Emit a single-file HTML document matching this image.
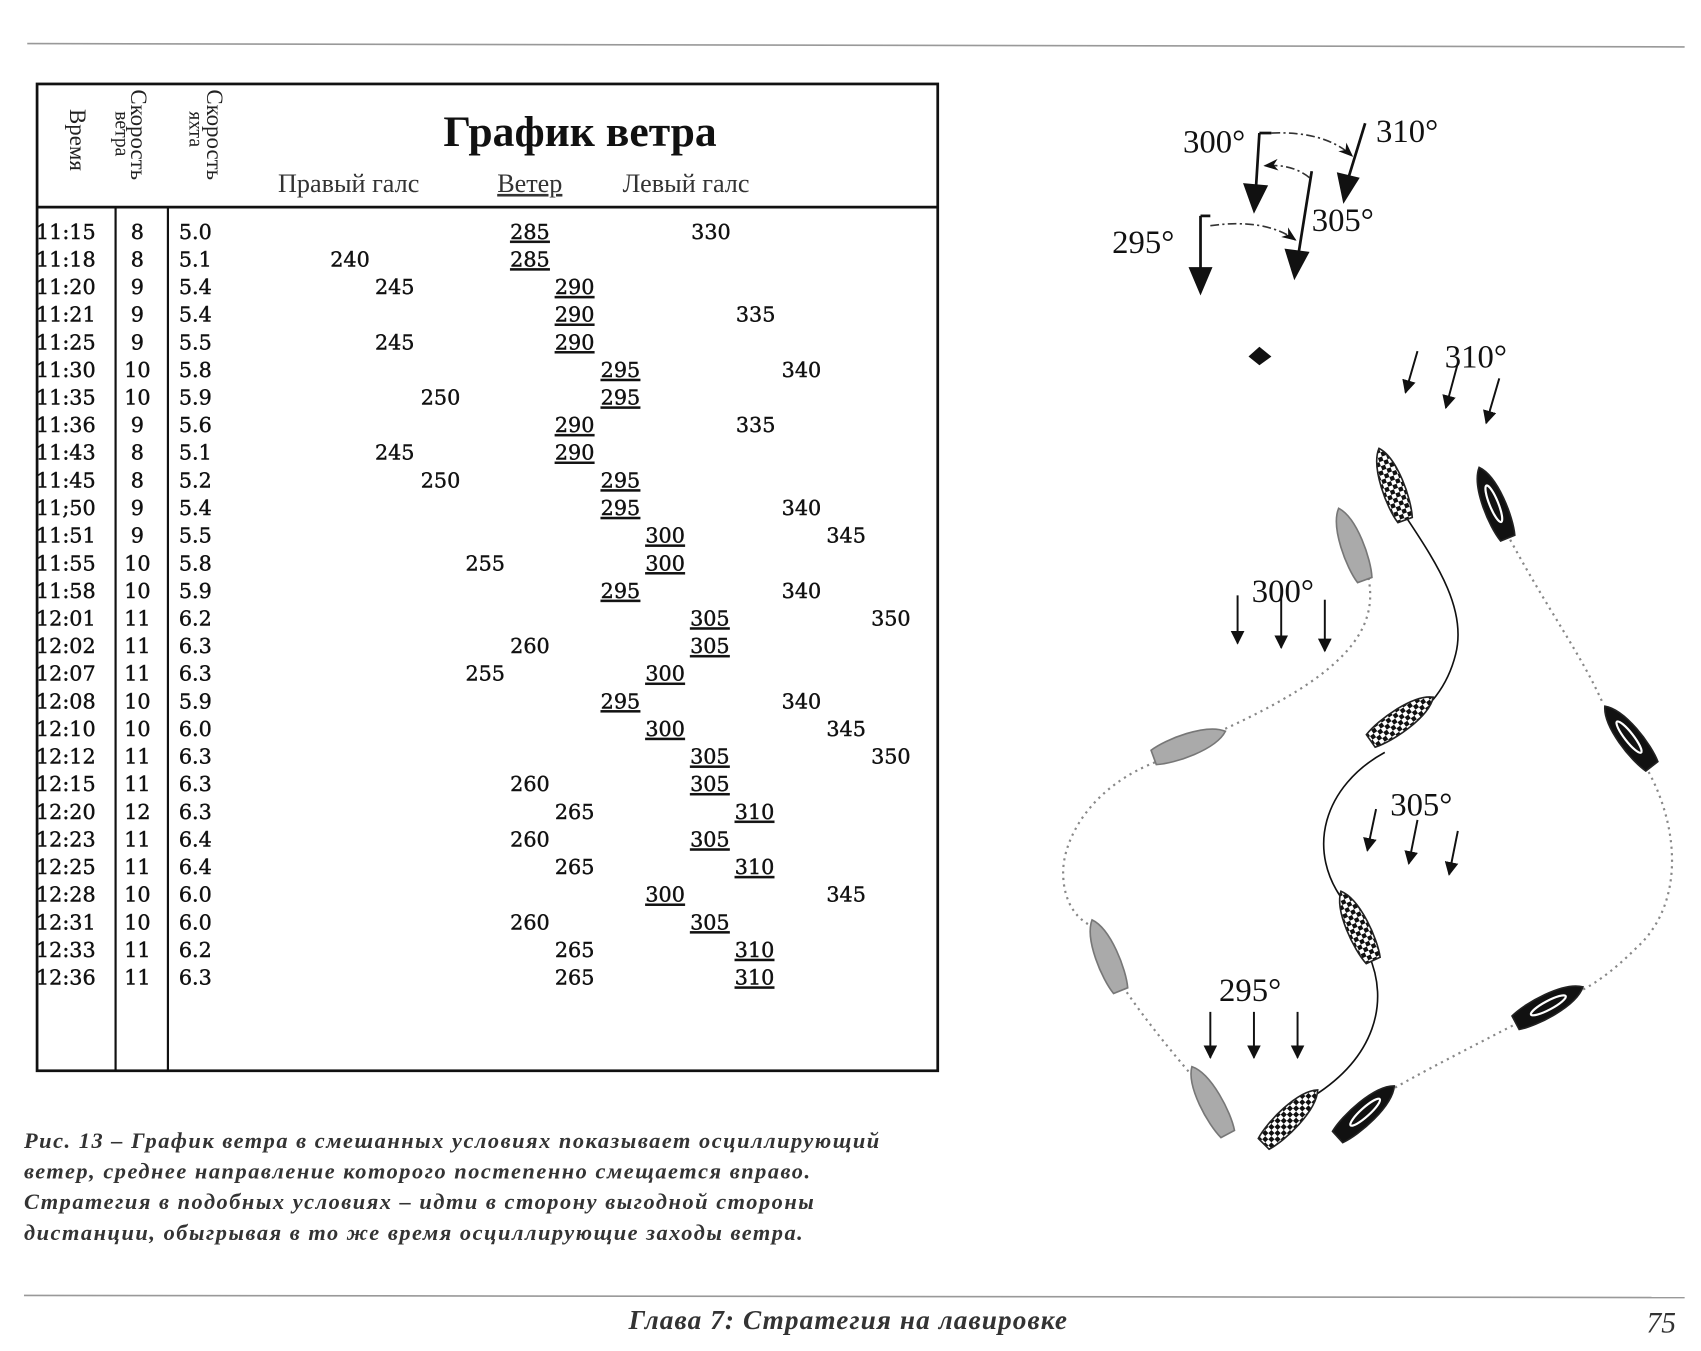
<!DOCTYPE html>
<html><head><meta charset="utf-8"><style>
html,body{margin:0;padding:0;background:#fff;}
svg{display:block}
</style></head><body>
<svg width="1701" height="1351" viewBox="0 0 1560 1239" preserveAspectRatio="none" xmlns="http://www.w3.org/2000/svg">
<defs>
<pattern id="chk" width="8" height="8" patternUnits="userSpaceOnUse"><rect width="8" height="8" fill="#fff"/><rect width="4" height="4" fill="#111"/><rect x="4" y="4" width="4" height="4" fill="#111"/></pattern>
<marker id="ah" viewBox="0 0 10 10" refX="9" refY="5" markerWidth="7" markerHeight="7" orient="auto"><path d="M0,0L10,5L0,10z" fill="#111"/></marker>
<marker id="sh" viewBox="0 0 10 10" refX="9" refY="5" markerWidth="9" markerHeight="9" orient="auto"><path d="M0,1L10,5L0,9L3,5z" fill="#111"/></marker>
<path id="boat" d="M0,-36 C13,-22 12,18 7,34 L-7,34 C-12,18 -13,-22 0,-36Z"/>
</defs>
<rect width="1560" height="1239" fill="#fff"/>
<line x1="25" y1="40" x2="1545" y2="43" stroke="#999" stroke-width="1.5"/>
<rect x="34" y="77" width="826" height="905" fill="none" stroke="#111" stroke-width="2.5"/>
<line x1="34" y1="190" x2="860" y2="190" stroke="#111" stroke-width="2.5"/>
<line x1="106" y1="190" x2="106" y2="982" stroke="#111" stroke-width="2"/>
<line x1="154" y1="190" x2="154" y2="982" stroke="#111" stroke-width="2"/>
<g font-family="'Liberation Serif',serif" fill="#222" font-size="21">
<text transform="translate(64,100) rotate(90)">Время</text>
<text transform="translate(120,82) rotate(90)">Скорость</text>
<text transform="translate(106,102) rotate(90)" font-size="18">ветра</text>
<text transform="translate(190,82) rotate(90)">Скорость</text>
<text transform="translate(174,102) rotate(90)" font-size="18">яхта</text>
</g>
<text x="532" y="134" text-anchor="middle" font-family="'Liberation Serif',serif" font-weight="bold" font-size="40" fill="#111">График ветра</text>
<g font-family="'Liberation Serif',serif" font-size="24" fill="#333">
<text x="255" y="176">Правый галс</text>
<text x="456" y="176" text-decoration="underline">Ветер</text>
<text x="571" y="176">Левый галс</text>
</g>
<g font-family="'DejaVu Serif',serif" font-size="19" fill="#111" stroke="#111" stroke-width="0.4" transform="translate(-2,0)">
<g transform="translate(0,219)"><text x="35">11:15</text><text x="128" text-anchor="middle">8</text><text x="166">5.0</text><text x="488" text-anchor="middle" text-decoration="underline">285</text><text x="654" text-anchor="middle">330</text></g>
<g transform="translate(0,244.3)"><text x="35">11:18</text><text x="128" text-anchor="middle">8</text><text x="166">5.1</text><text x="323" text-anchor="middle">240</text><text x="488" text-anchor="middle" text-decoration="underline">285</text></g>
<g transform="translate(0,269.7)"><text x="35">11:20</text><text x="128" text-anchor="middle">9</text><text x="166">5.4</text><text x="364" text-anchor="middle">245</text><text x="529" text-anchor="middle" text-decoration="underline">290</text></g>
<g transform="translate(0,295)"><text x="35">11:21</text><text x="128" text-anchor="middle">9</text><text x="166">5.4</text><text x="529" text-anchor="middle" text-decoration="underline">290</text><text x="695" text-anchor="middle">335</text></g>
<g transform="translate(0,320.3)"><text x="35">11:25</text><text x="128" text-anchor="middle">9</text><text x="166">5.5</text><text x="364" text-anchor="middle">245</text><text x="529" text-anchor="middle" text-decoration="underline">290</text></g>
<g transform="translate(0,345.7)"><text x="35">11:30</text><text x="128" text-anchor="middle">10</text><text x="166">5.8</text><text x="571" text-anchor="middle" text-decoration="underline">295</text><text x="737" text-anchor="middle">340</text></g>
<g transform="translate(0,371)"><text x="35">11:35</text><text x="128" text-anchor="middle">10</text><text x="166">5.9</text><text x="406" text-anchor="middle">250</text><text x="571" text-anchor="middle" text-decoration="underline">295</text></g>
<g transform="translate(0,396.3)"><text x="35">11:36</text><text x="128" text-anchor="middle">9</text><text x="166">5.6</text><text x="529" text-anchor="middle" text-decoration="underline">290</text><text x="695" text-anchor="middle">335</text></g>
<g transform="translate(0,421.6)"><text x="35">11:43</text><text x="128" text-anchor="middle">8</text><text x="166">5.1</text><text x="364" text-anchor="middle">245</text><text x="529" text-anchor="middle" text-decoration="underline">290</text></g>
<g transform="translate(0,447)"><text x="35">11:45</text><text x="128" text-anchor="middle">8</text><text x="166">5.2</text><text x="406" text-anchor="middle">250</text><text x="571" text-anchor="middle" text-decoration="underline">295</text></g>
<g transform="translate(0,472.3)"><text x="35">11;50</text><text x="128" text-anchor="middle">9</text><text x="166">5.4</text><text x="571" text-anchor="middle" text-decoration="underline">295</text><text x="737" text-anchor="middle">340</text></g>
<g transform="translate(0,497.6)"><text x="35">11:51</text><text x="128" text-anchor="middle">9</text><text x="166">5.5</text><text x="612" text-anchor="middle" text-decoration="underline">300</text><text x="778" text-anchor="middle">345</text></g>
<g transform="translate(0,523)"><text x="35">11:55</text><text x="128" text-anchor="middle">10</text><text x="166">5.8</text><text x="447" text-anchor="middle">255</text><text x="612" text-anchor="middle" text-decoration="underline">300</text></g>
<g transform="translate(0,548.3)"><text x="35">11:58</text><text x="128" text-anchor="middle">10</text><text x="166">5.9</text><text x="571" text-anchor="middle" text-decoration="underline">295</text><text x="737" text-anchor="middle">340</text></g>
<g transform="translate(0,573.6)"><text x="35">12:01</text><text x="128" text-anchor="middle">11</text><text x="166">6.2</text><text x="653" text-anchor="middle" text-decoration="underline">305</text><text x="819" text-anchor="middle">350</text></g>
<g transform="translate(0,599)"><text x="35">12:02</text><text x="128" text-anchor="middle">11</text><text x="166">6.3</text><text x="488" text-anchor="middle">260</text><text x="653" text-anchor="middle" text-decoration="underline">305</text></g>
<g transform="translate(0,624.3)"><text x="35">12:07</text><text x="128" text-anchor="middle">11</text><text x="166">6.3</text><text x="447" text-anchor="middle">255</text><text x="612" text-anchor="middle" text-decoration="underline">300</text></g>
<g transform="translate(0,649.6)"><text x="35">12:08</text><text x="128" text-anchor="middle">10</text><text x="166">5.9</text><text x="571" text-anchor="middle" text-decoration="underline">295</text><text x="737" text-anchor="middle">340</text></g>
<g transform="translate(0,674.9)"><text x="35">12:10</text><text x="128" text-anchor="middle">10</text><text x="166">6.0</text><text x="612" text-anchor="middle" text-decoration="underline">300</text><text x="778" text-anchor="middle">345</text></g>
<g transform="translate(0,700.3)"><text x="35">12:12</text><text x="128" text-anchor="middle">11</text><text x="166">6.3</text><text x="653" text-anchor="middle" text-decoration="underline">305</text><text x="819" text-anchor="middle">350</text></g>
<g transform="translate(0,725.6)"><text x="35">12:15</text><text x="128" text-anchor="middle">11</text><text x="166">6.3</text><text x="488" text-anchor="middle">260</text><text x="653" text-anchor="middle" text-decoration="underline">305</text></g>
<g transform="translate(0,750.9)"><text x="35">12:20</text><text x="128" text-anchor="middle">12</text><text x="166">6.3</text><text x="529" text-anchor="middle">265</text><text x="694" text-anchor="middle" text-decoration="underline">310</text></g>
<g transform="translate(0,776.3)"><text x="35">12:23</text><text x="128" text-anchor="middle">11</text><text x="166">6.4</text><text x="488" text-anchor="middle">260</text><text x="653" text-anchor="middle" text-decoration="underline">305</text></g>
<g transform="translate(0,801.6)"><text x="35">12:25</text><text x="128" text-anchor="middle">11</text><text x="166">6.4</text><text x="529" text-anchor="middle">265</text><text x="694" text-anchor="middle" text-decoration="underline">310</text></g>
<g transform="translate(0,826.9)"><text x="35">12:28</text><text x="128" text-anchor="middle">10</text><text x="166">6.0</text><text x="612" text-anchor="middle" text-decoration="underline">300</text><text x="778" text-anchor="middle">345</text></g>
<g transform="translate(0,852.3)"><text x="35">12:31</text><text x="128" text-anchor="middle">10</text><text x="166">6.0</text><text x="488" text-anchor="middle">260</text><text x="653" text-anchor="middle" text-decoration="underline">305</text></g>
<g transform="translate(0,877.6)"><text x="35">12:33</text><text x="128" text-anchor="middle">11</text><text x="166">6.2</text><text x="529" text-anchor="middle">265</text><text x="694" text-anchor="middle" text-decoration="underline">310</text></g>
<g transform="translate(0,902.9)"><text x="35">12:36</text><text x="128" text-anchor="middle">11</text><text x="166">6.3</text><text x="529" text-anchor="middle">265</text><text x="694" text-anchor="middle" text-decoration="underline">310</text></g>
</g>
<g font-family="'Liberation Serif',serif" font-style="italic" font-weight="bold" font-size="20.5" fill="#333" letter-spacing="1.4">
<text x="22" y="1053">Рис. 13 – График ветра в смешанных условиях показывает осциллирующий</text>
<text x="22" y="1081">ветер, среднее направление которого постепенно смещается вправо.</text>
<text x="22" y="1109">Стратегия в подобных условиях – идти в сторону выгодной стороны</text>
<text x="22" y="1137">дистанции, обыгрывая в то же время осциллирующие заходы ветра.</text>
</g>
<line x1="22" y1="1188" x2="1545" y2="1190" stroke="#999" stroke-width="1.5"/>
<text x="778" y="1219" text-anchor="middle" font-family="'Liberation Serif',serif" font-style="italic" font-weight="bold" font-size="25" fill="#333" letter-spacing="1">Глава 7: Стратегия на лавировке</text>
<text x="1537" y="1222" text-anchor="end" font-family="'Liberation Serif',serif" font-style="italic" font-size="27" fill="#333">75</text>
<g stroke="#111" fill="none" stroke-width="2.5">
<line x1="1101" y1="198" x2="1101" y2="248"/><line x1="1101" y1="198" x2="1110" y2="198"/>
<line x1="1155" y1="122" x2="1152" y2="170"/><line x1="1155" y1="122" x2="1166" y2="122"/>
<line x1="1252" y1="113" x2="1237" y2="162"/>
<line x1="1203" y1="157" x2="1191" y2="232"/>
</g>
<g fill="#111">
<path d="M1090,245 L1112,245 L1101,271Z"/>
<path d="M1140,168 L1163,170 L1150,196Z"/>
<path d="M1226,158 L1247,163 L1232,187Z"/>
<path d="M1178,228 L1201,231 L1187,257Z"/>
</g>
<g stroke="#333" fill="none" stroke-width="1.5" stroke-dasharray="8,3,2,3">
<path d="M1110,207 Q1160,200 1188,220" marker-end="url(#sh)"/>
<path d="M1166,122 Q1215,120 1240,143" marker-end="url(#sh)"/>
<path d="M1201,163 Q1185,150 1160,152" marker-end="url(#sh)"/>
</g>
<g font-family="'Liberation Serif',serif" font-size="30" fill="#111">
<text x="1020" y="232">295°</text>
<text x="1085" y="140">300°</text>
<text x="1262" y="130">310°</text>
<text x="1203" y="212">305°</text>
<text x="1325" y="337">310°</text>
<text x="1148" y="552">300°</text>
<text x="1275" y="748">305°</text>
<text x="1118" y="918">295°</text>
</g>
<path d="M1155,318 L1166,327 L1155,335 L1145,327Z" fill="#111"/>
<g stroke="#111" stroke-width="1.8" marker-end="url(#ah)">
<line x1="1300" y1="322" x2="1289" y2="360"/><line x1="1337" y1="333" x2="1326" y2="374"/><line x1="1375" y1="347" x2="1363" y2="388"/>
<line x1="1135" y1="546" x2="1135" y2="590"/><line x1="1175" y1="546" x2="1175" y2="594"/><line x1="1215" y1="550" x2="1215" y2="597"/>
<line x1="1262" y1="742" x2="1254" y2="780"/><line x1="1300" y1="752" x2="1292" y2="792"/><line x1="1337" y1="762" x2="1329" y2="802"/>
<line x1="1110" y1="928" x2="1110" y2="970"/><line x1="1150" y1="928" x2="1150" y2="970"/><line x1="1190" y1="928" x2="1190" y2="970"/>
</g>
<path d="M1290,475 C1320,520 1345,560 1335,600 C1325,640 1300,655 1290,665 M1270,690 C1215,720 1195,780 1235,830 M1255,875 C1275,920 1260,970 1205,1005" stroke="#111" stroke-width="1.5" fill="none"/>
<g stroke="#888" stroke-width="2" fill="none" stroke-dasharray="2,4">
<path d="M1255,530 C1265,580 1230,620 1120,670"/>
<path d="M1065,697 C1000,720 975,770 975,800 C975,830 990,845 1003,850"/>
<path d="M1030,905 C1050,935 1075,965 1092,985"/>
<path d="M1385,495 C1420,560 1450,600 1470,645"/>
<path d="M1512,708 C1540,760 1545,830 1500,870 C1480,890 1460,905 1442,912"/>
<path d="M1398,935 C1350,960 1300,985 1270,1003"/>
</g>
<g stroke="#222" stroke-width="1.5">
<use href="#boat" transform="translate(1277,445) rotate(-20)" fill="url(#chk)"/>
<use href="#boat" transform="translate(1285,660) rotate(55)" fill="url(#chk)"/>
<use href="#boat" transform="translate(1245,850) rotate(-25)" fill="url(#chk)"/>
<use href="#boat" transform="translate(1183,1025) rotate(45)" fill="url(#chk)"/>
<use href="#boat" transform="translate(1240,500) rotate(-20)" fill="#aaa" stroke="#777"/>
<use href="#boat" transform="translate(1090,683) rotate(70)" fill="#aaa" stroke="#777"/>
<use href="#boat" transform="translate(1015,877) rotate(-22)" fill="#aaa" stroke="#777"/>
<use href="#boat" transform="translate(1110,1010) rotate(-28)" fill="#aaa" stroke="#777"/>
<use href="#boat" transform="translate(1370,462) rotate(-22)" fill="#111"/>
<use href="#boat" transform="translate(1494,676) rotate(-38)" fill="#111"/>
<use href="#boat" transform="translate(1420,922) rotate(62)" fill="#111"/>
<use href="#boat" transform="translate(1252,1020) rotate(48)" fill="#111"/>
</g>
<g stroke="#fff" stroke-width="2" fill="none">
<ellipse cx="1370" cy="462" rx="4" ry="18" transform="rotate(-22 1370 462)"/>
<ellipse cx="1494" cy="676" rx="4" ry="18" transform="rotate(-38 1494 676)"/>
<ellipse cx="1420" cy="922" rx="4" ry="18" transform="rotate(62 1420 922)"/>
<ellipse cx="1252" cy="1020" rx="4" ry="18" transform="rotate(48 1252 1020)"/>
</g>
</svg>
</body></html>
